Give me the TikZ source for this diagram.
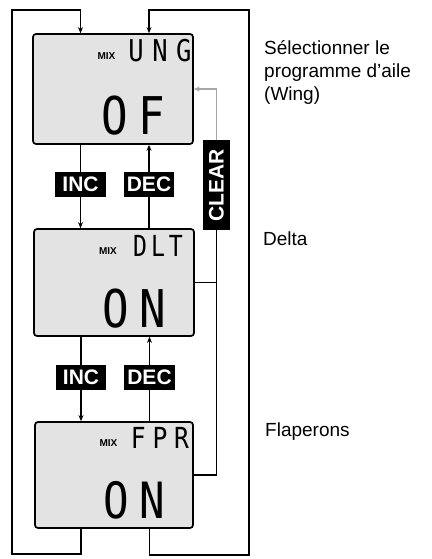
\documentclass[tikz,border=0pt]{standalone}
\usepackage{fontspec}
\usepackage{graphicx}
\setmainfont{Liberation Sans}
\newfontfamily\lcdfont{DejaVu Sans Mono}
\usetikzlibrary{arrows.meta}
\newcommand\lcdtxt[3]{\scalebox{#1}[1]{\fontsize{#2}{#2}\lcdfont #3}}
\begin{document}
\begin{tikzpicture}[x=1pt,y=-1pt,
  lcdbox/.style={draw=black,line width=1.7pt,rounded corners=3pt,fill=gray!22,inner sep=0pt},
  keybox/.style={fill=black,text=white,inner sep=0pt,minimum height=25pt,font=\fontsize{21}{21}\selectfont\bfseries},
  conn/.style={line width=1.3pt,draw=black},
  arr/.style={conn,-{Stealth[length=6pt,width=5pt]}},
  side/.style={inner sep=0pt,font=\fontsize{19}{23}\selectfont,align=left},
  mix/.style={inner sep=0pt,font=\fontsize{10}{10}\selectfont\bfseries}
]
\useasboundingbox (0,0) rectangle (431,559);
% LCD boxes
\node[lcdbox,minimum width=160pt,minimum height=110pt] (lcd1) at (113,89) {};
\node[lcdbox,minimum width=160pt,minimum height=107pt] (lcd2) at (114,282.5) {};
\node[lcdbox,minimum width=158pt,minimum height=106pt] (lcd3) at (114,475) {};
% LCD texts
\node[mix] (m1) at (106.5,56.5) {MIX};
\node[inner sep=0pt,anchor=base] (t1) at (160,62) {\lcdtxt{0.85}{30}{U\kern10pt N\kern10pt G}};
\node[inner sep=0pt,anchor=base] (b1) at (133,135) {\lcdtxt{0.85}{52}{O\kern12pt F}};
\node[mix] (m2) at (108,251) {MIX};
\node[inner sep=0pt,anchor=base] (t2) at (158,256) {\lcdtxt{0.8}{29}{D\kern5pt L\kern5pt T}};
\node[inner sep=0pt,anchor=base] (b2) at (134.5,327) {\lcdtxt{0.85}{52}{O\kern12pt N}};
\node[mix] (m3) at (108.5,443.5) {MIX};
\node[inner sep=0pt,anchor=base] (t3) at (160,448) {\lcdtxt{0.85}{29}{F\kern8pt P\kern8pt R}};
\node[inner sep=0pt,anchor=base] (b3) at (134,518) {\lcdtxt{0.85}{50}{O\kern12pt N}};
% keys
\node[keybox,minimum width=51pt] (inc1) at (80.5,184.5) {INC};
\node[keybox,minimum width=50pt] (dec1) at (149,184.5) {DEC};
\node[keybox,minimum width=50pt] (inc2) at (81,377.5) {INC};
\node[keybox,minimum width=51pt] (dec2) at (149.5,377.5) {DEC};
\node[fill=black,text=white,inner sep=0pt,minimum width=27pt,minimum height=90pt,font=\fontsize{21}{21}\selectfont\bfseries] (clear) at (216.5,185) {\rotatebox{90}{CLEAR}};
% side texts
\node[side,anchor=base west] (s1) at (264,101) {Sélectionner le\\programme d'aile\\(Wing)};
\node[side,anchor=base west] (s2) at (263,245) {Delta};
\node[side,anchor=base west] (s3) at (265,436) {Flaperons};
% coordinates of the loops
\coordinate (lt) at (12,10);
\coordinate (lb) at (12,554);
\coordinate (rt) at (249,10);
\coordinate (rb) at (249,555);
% INC / DEC connectors
\draw[conn] (lcd1.south -| inc1) -- (inc1.north);
\draw[arr] (inc1.south) -- (lcd2.north -| inc1);
\draw[conn] (lcd2.north -| dec1) -- (dec1.south);
\draw[arr] (dec1.north) -- (lcd1.south -| dec1);
\draw[conn] (lcd2.south -| inc2) -- (inc2.north);
\draw[arr] (inc2.south) -- (lcd3.north -| inc2);
\draw[conn] (lcd3.north -| dec2) -- (dec2.south);
\draw[arr] (dec2.north) -- (lcd2.south -| dec2);
% outer loops
\draw[arr] (lcd3.south -| inc2) |- (lb) -- (lt) -| (lcd1.north -| inc1);
\draw[arr] (lcd3.south -| dec2) |- (rb) -- (rt) -| (lcd1.north -| dec1);
% clear
\draw[conn] (lcd3.east) -| (clear.south);
\draw[conn] (lcd2.east) -- (lcd2.east -| clear);
\draw[arr,draw=gray!70] (clear.north) |- (lcd1.east);
\end{tikzpicture}
\end{document}
